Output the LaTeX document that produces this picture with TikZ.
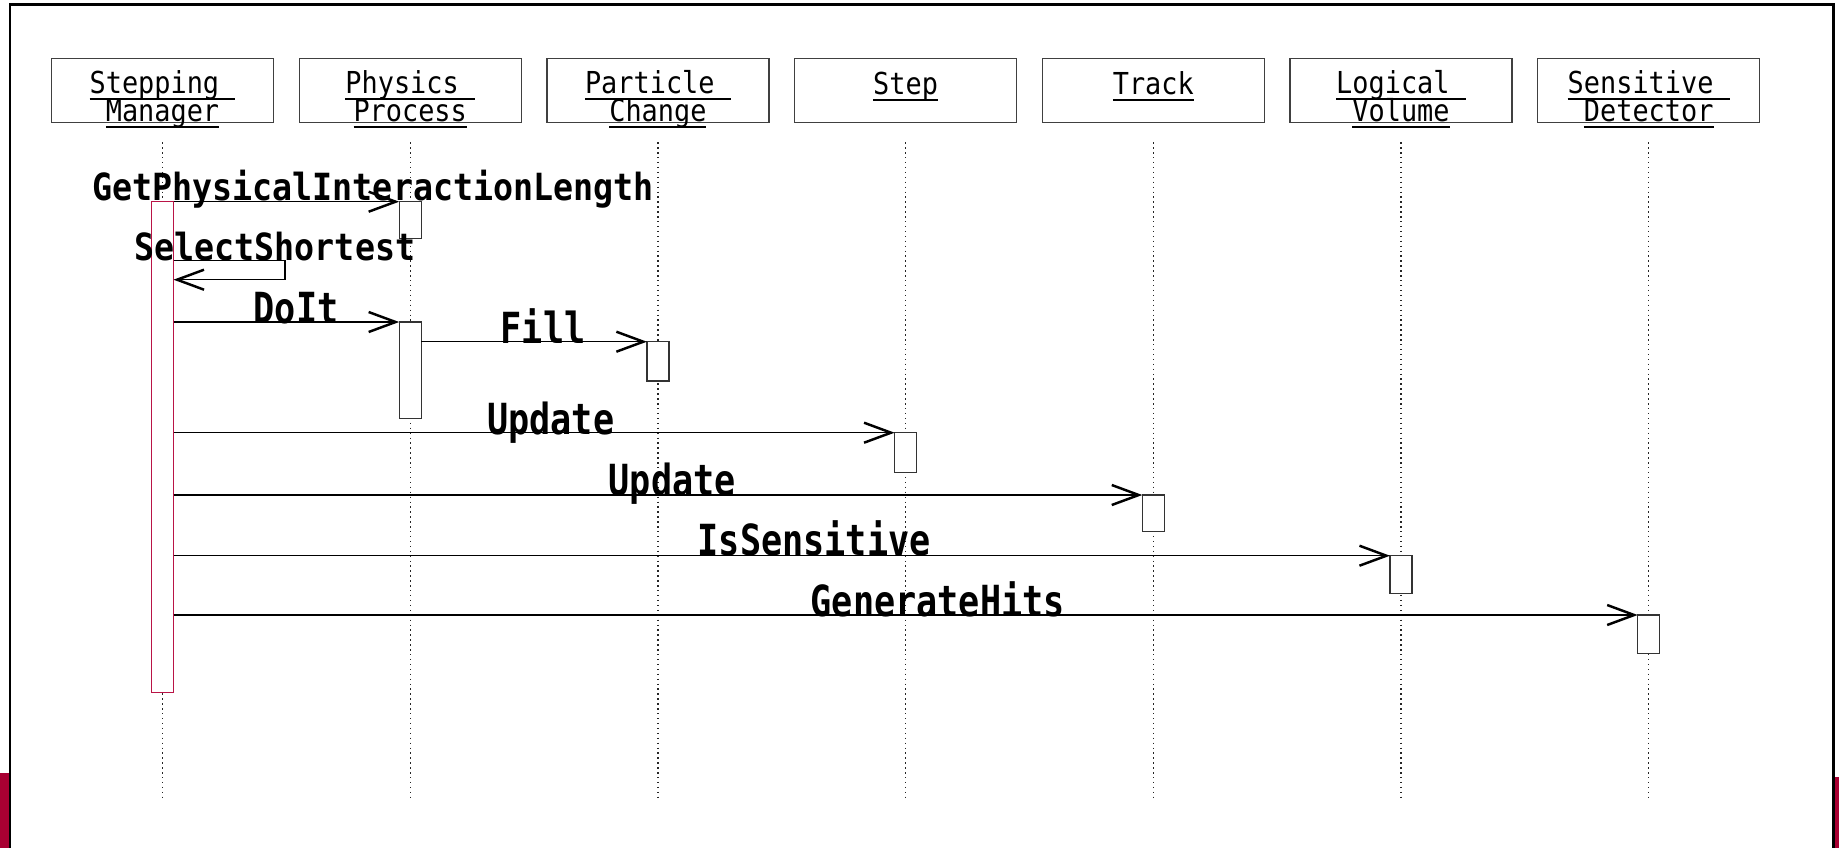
\documentclass[tikz,border=0pt]{standalone}
\usepackage{fontspec}
\newfontfamily\seqfont[FakeStretch=0.89]{DejaVu Sans Mono}
\newfontfamily\callfont[FakeStretch=0.82]{DejaVu Sans Mono}
\usepackage{xcolor}
\usepackage{tikz}
\usetikzlibrary{positioning}
\usetikzlibrary{arrows.meta}
\definecolor{slidered}{RGB}{168,0,50}
\definecolor{actred}{RGB}{185,20,70}
\newcommand{\uln}[1]{\setbox0\hbox{#1}\rlap{\rule[-1.9pt]{\wd0}{0.57pt}}\box0}

\begin{document}
\begin{tikzpicture}[
      obj/.style={draw=black!75,line width=0.4pt,minimum width=2.22cm,minimum height=0.64cm,inner sep=0pt,outer sep=0pt},
      hdr/.style={font=\seqfont\fontsize{8.6}{10}\selectfont,anchor=base,inner sep=0pt},
      act/.style={draw=black!80,fill=white,line width=0.4pt,minimum width=0.22cm,inner sep=0pt,outer sep=0pt,anchor=north},
      life/.style={black!85,densely dotted,line width=0.4pt},
      call/.style={black,line width=0.4pt,-{Straight Barb[length=0.27cm,width=0.2cm,line width=0.7pt]}},
      msgbig/.style={font=\callfont\bfseries\fontsize{12.2}{14}\selectfont,anchor=base west,inner sep=0pt},
      msgsmall/.style={font=\seqfont\bfseries\fontsize{10.65}{13}\selectfont,anchor=base west,inner sep=0pt}
      ]

      \useasboundingbox (0,0) rectangle (18.39,-8.48);
      \fill[slidered] (0,-7.73) rectangle (0.093,-8.48);
      \fill[slidered] (18.345,-7.77) rectangle (18.39,-8.48);
      \draw[line width=0.7pt] (0.1,-8.48) -- (0.1,-0.047) -- (18.333,-0.047) -- (18.333,-8.48);

      % objects
      \node[obj] (sm) at (1.625,-0.903) {};
      \node[obj, right=0.257cm of sm] (pp) {};
      \node[obj, right=0.257cm of pp] (pc) {};
      \node[obj, right=0.257cm of pc] (st) {};
      \node[obj, right=0.257cm of st] (tr) {};
      \node[obj, right=0.257cm of tr] (lv) {};
      \node[obj, right=0.257cm of lv] (sd) {};

      \node[hdr] (smA) at ([yshift=-0.352cm]sm.north) {\uln{Stepping\ }};
      \node[hdr] (smB) at ([yshift=-0.632cm]sm.north) {\uln{Manager}};
      \node[hdr] (ppA) at ([yshift=-0.352cm]pp.north) {\uln{Physics\ }};
      \node[hdr] (ppB) at ([yshift=-0.632cm]pp.north) {\uln{Process}};
      \node[hdr] (pcA) at ([yshift=-0.352cm]pc.north) {\uln{Particle\ }};
      \node[hdr] (pcB) at ([yshift=-0.632cm]pc.north) {\uln{Change}};
      \node[hdr] (stA) at ([yshift=-0.36cm]st.north) {\uln{Step}};
      \node[hdr] (trA) at ([yshift=-0.36cm]tr.north) {\uln{Track}};
      \node[hdr] (lvA) at ([yshift=-0.352cm]lv.north) {\uln{Logical\ }};
      \node[hdr] (lvB) at ([yshift=-0.632cm]lv.north) {\uln{Volume}};
      \node[hdr] (sdA) at ([yshift=-0.352cm]sd.north) {\uln{Sensitive\ }};
      \node[hdr] (sdB) at ([yshift=-0.632cm]sd.north) {\uln{Detector}};

      % lifelines
      \foreach \o in {sm,pp,pc,st,tr,lv,sd}
        \draw[life] ([yshift=-0.2cm]\o.south) -- ++(0,-6.567);

      % activations
      \node[act, draw=actred, minimum height=4.908cm] (sm1) at (sm |- 0,-2.015) {};
      \node[act, minimum height=0.366cm] (pp1) at (pp |- 0,-2.017) {};
      \node[act, minimum height=0.963cm] (pp2) at (pp |- 0,-3.22) {};
      \node[act, minimum height=0.393cm] (pc1) at (pc |- 0,-3.417) {};
      \node[act, minimum height=0.396cm] (st1) at (st |- 0,-4.327) {};
      \node[act, minimum height=0.367cm] (tr1) at (tr |- 0,-4.95) {};
      \node[act, minimum height=0.376cm] (lv1) at (lv |- 0,-5.557) {};
      \node[act, minimum height=0.387cm] (sd1) at (sd |- 0,-6.15) {};

      % calls
      \draw[call] (sm1.east |- pp1.north) -- (pp1.north west);
      \draw[call] (sm1.east |- 0,-2.607) -- ++(1.115,0) -- ++(0,-0.19) -- (sm1.east |- 0,-2.797);
      \draw[call] (sm1.east |- pp2.north) -- (pp2.north west);
      \draw[call] (pp2.east |- pc1.north) -- (pc1.north west);
      \draw[call] (sm1.east |- st1.north) -- (st1.north west);
      \draw[call] (sm1.east |- tr1.north) -- (tr1.north west);
      \draw[call] (sm1.east |- lv1.north) -- (lv1.north west);
      \draw[call] (sm1.east |- sd1.north) -- (sd1.north west);

      \node[msgsmall] (gpil) at (0.915,-2.0) {GetPhysicalInteractionLength};
      \node[msgsmall] (sel) at (1.337,-2.6) {SelectShortest};
      \node[msgbig] (doit) at (2.53,-3.23) {DoIt};
      \node[msgbig] (fill) at (5.0,-3.43) {Fill};
      \node[msgbig] (upd1) at (4.865,-4.34) {Update};
      \node[msgbig] (upd2) at (6.08,-4.95) {Update};
      \node[msgbig] (issens) at (6.97,-5.55) {IsSensitive};
      \node[msgbig] (genhits) at (8.1,-6.165) {GenerateHits};

\end{tikzpicture}
\end{document}
